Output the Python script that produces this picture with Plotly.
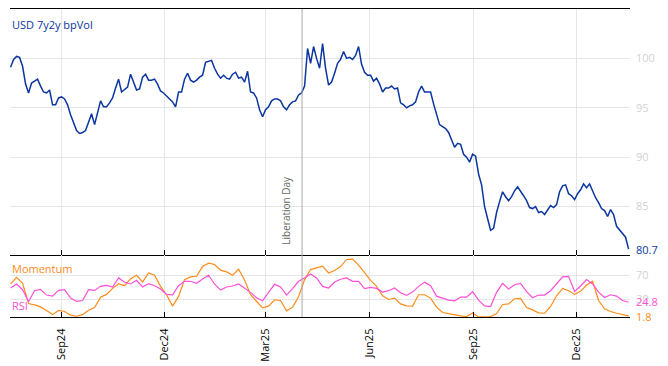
import pandas as pd
import plotly.graph_objects as go
from plotly.subplots import make_subplots

# ---------------- data ----------------
vol_start, vol_end = "2024-07-18", "2026-01-16"
vol_values = [
    99.1, 99.9, 100.2, 100.1, 99.2, 97.4, 96.5, 97.5, 97.7, 97.9,
    97.2, 96.6, 96.5, 96.8, 95.3, 95.3, 96.0, 96.1, 95.9, 95.3,
    94.3, 93.4, 92.7, 92.4, 92.5, 92.7, 93.6, 94.4, 93.3, 94.4,
    95.7, 95.1, 95.1, 95.5, 96.0, 97.0, 97.9, 96.6, 96.9, 97.1,
    98.4, 97.5, 96.8, 96.9, 98.1, 98.4, 97.8, 97.8, 97.9, 97.4,
    96.7, 96.5, 96.2, 95.9, 95.6, 95.1, 96.6, 96.6, 97.9, 98.5,
    97.8, 97.6, 97.8, 98.1, 98.3, 99.6, 99.7, 99.8, 99.0, 98.4,
    98.0, 98.3, 98.0, 97.9, 98.4, 98.6, 98.0, 98.1, 97.6, 98.7,
    96.6, 96.5, 96.0, 94.8, 94.1, 94.8, 95.1, 95.7, 95.9, 95.9,
    95.7, 95.1, 94.8, 95.3, 95.6, 95.7, 96.3, 96.5, 97.2, 101.0,
    99.5, 101.2, 100.0, 99.0, 101.5, 99.0, 97.3, 97.6, 98.5, 99.5,
    99.9, 100.7, 100.0, 100.1, 99.9, 100.3, 101.2, 99.4, 98.6, 98.3,
    98.3, 97.7, 98.0, 97.4, 96.6, 97.0, 97.0, 97.2, 96.9, 97.0,
    95.5, 95.3, 95.0, 95.2, 95.3, 95.6, 96.6, 97.2, 96.6, 96.6,
    96.6, 95.4, 94.4, 93.3, 93.1, 92.9, 92.5, 91.8, 91.0, 91.4,
    91.3, 90.3, 90.0, 89.5, 90.3, 90.1, 88.3, 87.2, 85.0, 83.8,
    82.6, 82.8, 84.4, 85.5, 86.5, 86.0, 85.6, 86.0, 86.6, 87.0,
    86.6, 86.1, 85.6, 84.9, 84.8, 85.0, 84.4, 84.5, 84.2, 84.6,
    85.1, 84.9, 85.2, 86.5, 87.1, 87.2, 86.3, 86.1, 85.7, 86.3,
    86.7, 87.3, 86.9, 87.3, 86.5, 85.9, 85.4, 84.8, 84.6, 84.0,
    84.7, 84.2, 83.0, 82.6, 82.3, 81.9, 80.7,
]

ind_start, ind_end = "2024-07-18", "2026-01-16"
momentum_values = [
    55.4, 66.6, 56.5, 22.7, 20.4, 17.0, 10.8, 4.0, 11.0, 9.2,
    3.0, 1.3, 4.0, 11.4, 15.9, 33.0, 37.9, 48.0, 55.4, 52.5,
    64.4, 70.0, 58.7, 73.9, 70.0, 51.4, 37.3, 18.2, 34.5, 62.7,
    67.2, 68.3, 84.6, 90.3, 88.0, 78.5, 75.6, 70.0, 80.0, 62.0,
    37.3, 25.5, 15.4, 18.2, 28.9, 27.7, 10.3, 16.5, 34.0, 62.7,
    79.6, 82.4, 85.2, 73.9, 77.9, 84.6, 96.5, 97.0, 86.9, 74.5,
    61.5, 51.4, 35.6, 29.4, 31.7, 22.0, 18.7, 18.2, 37.3, 37.3,
    31.7, 16.5, 7.5, 5.8, 3.5, 1.8, 0.7, 6.9, 0.1, 0.1,
    0.7, 5.8, 21.0, 22.0, 30.6, 31.1, 15.9, 12.0, 6.9, 6.3,
    17.6, 35.6, 48.0, 44.1, 37.9, 43.0, 53.7, 60.0, 27.7, 13.7,
    9.2, 6.3, 4.6, 1.8,
]
rsi_values = [
    48.6, 55.4, 45.8, 26.1, 44.1, 46.4, 36.8, 35.0, 44.6, 45.8,
    31.7, 26.1, 27.7, 45.8, 44.6, 51.4, 53.1, 50.3, 65.5, 58.2,
    55.4, 61.5, 50.3, 55.9, 52.5, 46.9, 37.9, 37.3, 52.5, 59.9,
    59.9, 56.5, 63.8, 70.0, 55.4, 45.2, 50.3, 52.0, 55.4, 48.0,
    41.3, 32.3, 27.2, 41.3, 54.8, 50.3, 36.8, 47.5, 59.9, 65.5,
    72.3, 65.5, 51.4, 48.6, 58.7, 63.3, 65.5, 59.9, 59.9, 47.5,
    49.7, 48.0, 41.8, 44.1, 48.6, 40.7, 36.2, 41.8, 51.4, 58.2,
    52.5, 35.0, 31.1, 28.3, 27.2, 33.4, 33.4, 42.4, 28.3, 18.7,
    17.6, 41.3, 56.5, 46.9, 54.2, 56.5, 42.4, 32.3, 36.8, 36.8,
    44.1, 56.5, 67.2, 68.3, 43.0, 52.0, 62.7, 55.4, 41.8, 32.8,
    37.3, 35.0, 27.7, 24.8,
]

tick_dates = ["2024-09-01", "2024-12-01", "2025-03-01", "2025-06-01", "2025-09-01", "2025-12-01"]
tick_labels = ["Sep24", "Dec24", "Mar25", "Jun25", "Sep25", "Dec25"]
vol_ticks = [85, 90, 95, 100]
ind_ticks = [30, 70]
event_date = "2025-04-02"
event_label = "Liberation Day"
x_range = ["2024-07-17 12:00", "2026-01-17 06:00"]

vol_dates = pd.date_range(vol_start, vol_end, periods=len(vol_values))
ind_dates = pd.date_range(ind_start, ind_end, periods=len(momentum_values))

BLUE = "#0b35a0"
ORANGE = "#ff8c1a"
PINK = "#ff4fd8"
GRID = "#e6e6e6"
LABEL_GREY = "#d2d2d2"
FONT = "Open Sans"

fig = make_subplots(rows=2, cols=1, shared_xaxes=True, vertical_spacing=0,
                    row_heights=[0.7987, 0.2013])

fig.add_trace(go.Scatter(x=vol_dates, y=vol_values, mode="lines",
                         line=dict(color=BLUE, width=1.5), name="USD 7y2y bpVol"),
              row=1, col=1)
fig.add_trace(go.Scatter(x=ind_dates, y=momentum_values, mode="lines",
                         line=dict(color=ORANGE, width=1.2), name="Momentum"),
              row=2, col=1)
fig.add_trace(go.Scatter(x=ind_dates, y=rsi_values, mode="lines",
                         line=dict(color=PINK, width=1.2), name="RSI"),
              row=2, col=1)

common_x = dict(range=x_range, tickvals=tick_dates, ticktext=tick_labels,
                showgrid=True, gridcolor=GRID, gridwidth=1,
                showline=True, linecolor="black", linewidth=1.3,
                ticks="inside", ticklen=5, tickcolor="black", tickwidth=1,
                zeroline=False, automargin=False)

fig.update_xaxes(**common_x, mirror=True, showticklabels=False, row=1, col=1)
fig.update_xaxes(**common_x, showticklabels=True, tickangle=-90,
                 tickfont=dict(family=FONT, size=11, color="black"),
                 ticklabelstandoff=6, row=2, col=1)

fig.update_yaxes(side="right", range=[80.1, 105], tickvals=vol_ticks,
                 showgrid=True, gridcolor=GRID, showline=False, zeroline=False,
                 ticks="", tickfont=dict(family=FONT, size=11, color=LABEL_GREY),
                 ticklabelstandoff=5, automargin=False, row=1, col=1)
fig.update_yaxes(side="right", range=[0, 104], tickvals=ind_ticks,
                 showgrid=True, gridcolor=GRID, showline=False, zeroline=False,
                 ticks="", tickfont=dict(family=FONT, size=11, color=LABEL_GREY),
                 ticklabelstandoff=5, automargin=False, row=2, col=1)

# event line
fig.add_shape(type="line", xref="x", yref="paper", x0=event_date, x1=event_date,
              y0=0, y1=1, line=dict(color="#aaaaaa", width=1))
fig.add_annotation(xref="x", yref="y", x=event_date, y=80.9,
                   text=event_label, textangle=-90, showarrow=False,
                   xanchor="right", yanchor="bottom", xshift=-7,
                   font=dict(family=FONT, size=10, color="#666666"))

# labels
fig.add_annotation(xref="paper", yref="paper", x=0, y=0.99, text="USD 7y2y bpVol",
                   showarrow=False, xanchor="left", yanchor="top", yshift=-3,
                   font=dict(family=FONT, size=11, color=BLUE))
fig.add_annotation(xref="paper", yref="y2", x=0, y=81, text="Momentum",
                   showarrow=False, xanchor="left", yanchor="middle",
                   font=dict(family=FONT, size=11, color=ORANGE))
fig.add_annotation(xref="paper", yref="y2", x=0, y=19, text="RSI",
                   showarrow=False, xanchor="left", yanchor="middle",
                   font=dict(family=FONT, size=11, color=PINK))

# last values
fig.add_annotation(xref="paper", yref="y", x=1, y=vol_values[-1], text=f"{vol_values[-1]}",
                   showarrow=False, xanchor="left", yanchor="middle", xshift=4,
                   font=dict(family=FONT, size=11, color=BLUE))
fig.add_annotation(xref="paper", yref="y2", x=1, y=rsi_values[-1], text=f"{rsi_values[-1]}",
                   showarrow=False, xanchor="left", yanchor="middle", xshift=4, yshift=1,
                   font=dict(family=FONT, size=11, color=PINK))
fig.add_annotation(xref="paper", yref="y2", x=1, y=momentum_values[-1], text=f"{momentum_values[-1]}",
                   showarrow=False, xanchor="left", yanchor="middle", xshift=4, yshift=-1,
                   font=dict(family=FONT, size=11, color=ORANGE))

fig.update_layout(width=668, height=366, showlegend=False,
                  margin=dict(l=10, r=38, t=9, b=49, autoexpand=False),
                  paper_bgcolor="white", plot_bgcolor="white",
                  font=dict(family=FONT))

fig.write_html("out.html", config={"displayModeBar": False},
               post_script="document.body.style.margin='0';document.body.style.overflow='hidden';")
